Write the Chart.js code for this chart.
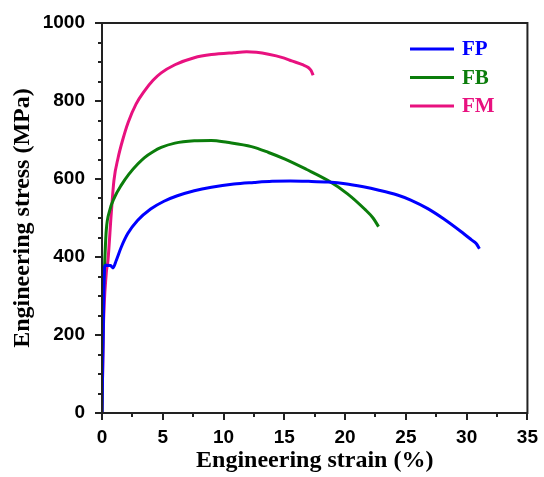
<!DOCTYPE html>
<html>
<head>
<meta charset="utf-8">
<script src="https://cdn.jsdelivr.net/npm/chart.js@4.4.1/dist/chart.umd.min.js"></script>
<style>
  body { margin: 0; background: #fff; }
  #wrap { width: 544px; height: 477px; }
</style>
</head>
<body>
<div id="wrap"><canvas id="tensileChart" width="544" height="477"></canvas></div>
<script>
// Curve data: strain (%) / stress (MPa)
const strainFP = [0, 0.1, 0.2, 0.3, 0.7, 0.9, 1.17, 1.58, 2.12, 2.94, 4.0, 5.1, 6.2, 7.59, 9, 10.85, 12.5, 14, 15.5, 17, 18.6, 20, 21.5, 22.7, 24.3, 25.4, 26.8, 28.1, 29.5, 30.4, 30.8, 31.05];
const stressFP = [0, 200, 372, 379, 378, 372, 391, 425, 460, 494, 523, 543, 557, 570, 579, 587, 591, 594, 595, 594, 592, 588, 580, 572, 559, 546, 524, 498, 466, 444, 434, 421];

const strainFB = [0, 0.08, 0.22, 0.35, 0.63, 1.03, 1.6, 2.2, 2.96, 3.5, 4.2, 4.87, 6, 7.59, 9, 10.3, 12.3, 13.7, 15.06, 16.8, 18.6, 20.2, 21.6, 22.3, 22.75];
const stressFB = [0, 250, 383, 468, 519, 553, 585, 612, 639, 655, 670, 681, 692, 698, 699, 694, 683, 668, 651, 625, 596, 562, 523, 500, 478];

const strainFM = [0, 0.1, 0.35, 0.49, 0.76, 0.98, 1.33, 1.7, 2.15, 2.8, 3.5, 4.2, 4.87, 6, 7.59, 9, 10.85, 11.9, 13.7, 15, 15.6, 16.5, 16.97, 17.2, 17.37];
const stressFM = [0, 200, 358, 391, 511, 596, 655, 700, 745, 792, 826, 853, 872, 893, 911, 919, 924, 926, 920, 910, 903, 893, 886, 878, 866];

const seriesNames = ['FP', 'FB', 'FM'];
const seriesColors = ['#0000ff', '#0b7d0b', '#e8117f'];

const xTicks = { min: 0, max: 35, major: 5, minor: 2.5 };
const yTicks = { min: 0, max: 1000, major: 200, minor: 50 };

function toPoints(xs, ys) {
    return xs.map((x, i) => ({ x: x, y: ys[i] }));
}

const serif = "'Liberation Serif', 'Times New Roman', serif";
const sans = "'Liberation Sans', Arial, sans-serif";

// box round the plot, tick marks (major + minor) and the legend inside the plot
const framePlugin = {
    id: 'frame',
    afterDraw(chart) {
        const ctx = chart.ctx;
        const area = chart.chartArea;
        const xs = chart.scales.x;
        const ys = chart.scales.y;
        ctx.save();
        ctx.strokeStyle = '#222';
        ctx.lineWidth = 2;

        // ticks
        ctx.beginPath();
        for (let v = xTicks.min; v <= xTicks.max + 1e-9; v += xTicks.minor) {
            const px = Math.round(xs.getPixelForValue(v));
            const isMajor = Math.abs(v / xTicks.major - Math.round(v / xTicks.major)) < 1e-6;
            ctx.moveTo(px, area.bottom);
            ctx.lineTo(px, area.bottom + (isMajor ? 7 : 4));
        }
        for (let v = yTicks.min; v <= yTicks.max + 1e-9; v += yTicks.minor) {
            const py = Math.round(ys.getPixelForValue(v));
            const isMajor = Math.abs(v / yTicks.major - Math.round(v / yTicks.major)) < 1e-6;
            ctx.moveTo(area.left, py);
            ctx.lineTo(area.left - (isMajor ? 7 : 4), py);
        }
        ctx.stroke();

        // box
        ctx.strokeRect(area.left, area.top, area.right - area.left, area.bottom - area.top);

        // legend
        const lx = 410, ly = 49, gap = 28.5;
        ctx.font = 'bold 21px ' + serif;
        ctx.textBaseline = 'middle';
        chart.data.datasets.forEach((ds, i) => {
            const y = ly + i * gap;
            ctx.strokeStyle = ds.borderColor;
            ctx.lineWidth = 3;
            ctx.beginPath();
            ctx.moveTo(lx, y);
            ctx.lineTo(lx + 44, y);
            ctx.stroke();
            ctx.fillStyle = ds.borderColor;
            ctx.fillText(ds.label, lx + 52, y + 1);
        });
        ctx.restore();
    }
};

const ctx = document.getElementById('tensileChart').getContext('2d');
const tensileChart = new Chart(ctx, {
    type: 'scatter',
    data: {
        datasets: [
            { label: seriesNames[0], data: toPoints(strainFP, stressFP), borderColor: seriesColors[0] },
            { label: seriesNames[1], data: toPoints(strainFB, stressFB), borderColor: seriesColors[1] },
            { label: seriesNames[2], data: toPoints(strainFM, stressFM), borderColor: seriesColors[2] }
        ].map(ds => Object.assign(ds, {
            showLine: true,
            borderWidth: 3,
            pointRadius: 0,
            cubicInterpolationMode: 'monotone',
            backgroundColor: ds.borderColor
        }))
    },
    options: {
        responsive: false,
        animation: false,
        layout: { padding: { top: 23, right: 12, left: 0, bottom: 0 } },
        plugins: {
            legend: { display: false },
            tooltip: { enabled: false }
        },
        scales: {
            x: {
                type: 'linear',
                min: xTicks.min,
                max: xTicks.max,
                afterFit: scale => { scale.height = 64; },
                grid: { display: false, drawTicks: true, tickLength: 7 },
                border: { display: false },
                ticks: {
                    stepSize: xTicks.major,
                    padding: 6,
                    color: '#000',
                    callback: v => String(v),
                    font: { family: sans, size: 19, weight: 'bold' }
                },
                title: {
                    display: true,
                    text: 'Engineering strain (%)',
                    color: '#000',
                    padding: { top: 0, bottom: 2 },
                    font: { family: serif, size: 24, weight: 'bold' }
                }
            },
            y: {
                type: 'linear',
                min: yTicks.min,
                max: yTicks.max,
                afterFit: scale => { scale.width = 102; },
                grid: { display: false, drawTicks: true, tickLength: 7 },
                border: { display: false },
                ticks: {
                    stepSize: yTicks.major,
                    padding: 10,
                    color: '#000',
                    callback: v => String(v),
                    font: { family: sans, size: 19, weight: 'bold' }
                },
                title: {
                    display: true,
                    text: 'Engineering stress (MPa)',
                    color: '#000',
                    padding: { top: 8, bottom: 0 },
                    font: { family: serif, size: 24, weight: 'bold' }
                }
            }
        }
    },
    plugins: [framePlugin]
});
</script>
</body>
</html>
